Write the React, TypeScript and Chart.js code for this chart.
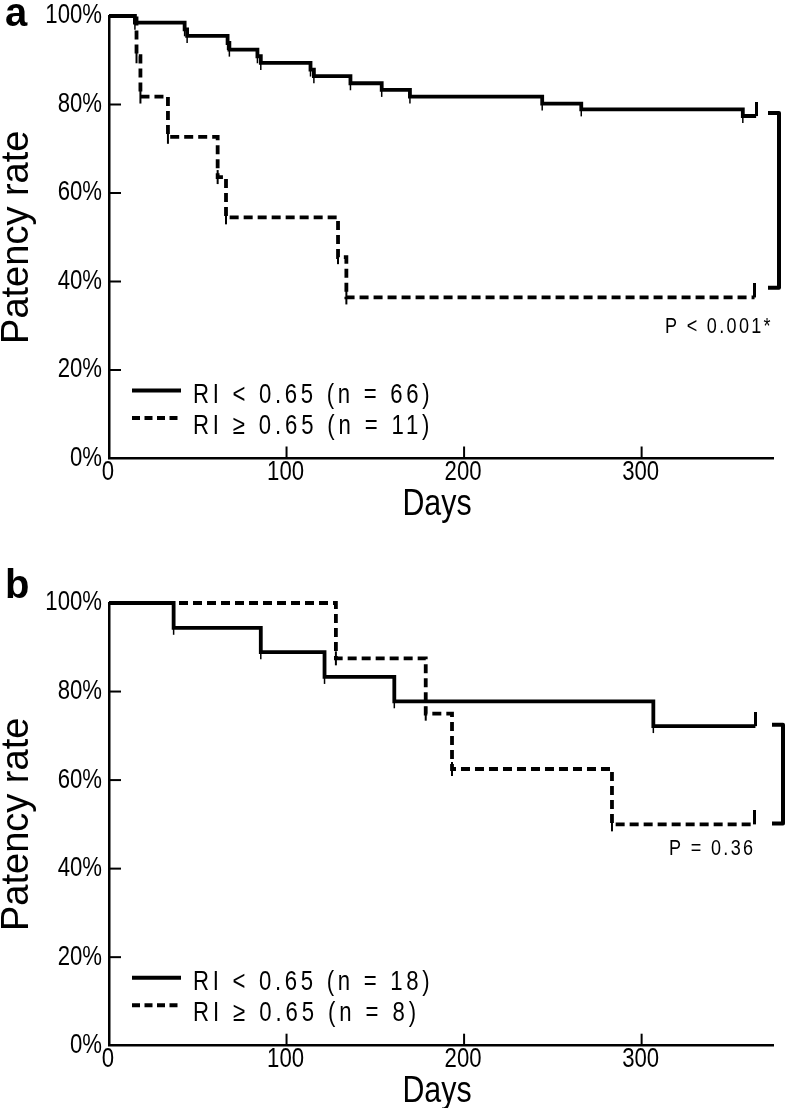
import React, { useEffect, useRef } from 'react';
import { Chart, registerables } from 'chart.js';

Chart.register(...registerables);

// ---------- data ----------
const xTickValues = [0, 100, 200, 300];
const yTickValues = [0, 20, 40, 60, 80, 100];
const xTickLabels = ['0', '100', '200', '300'];
const yTickLabels = ['0%', '20%', '40%', '60%', '80%', '100%'];
const xMax = 374;

const legendA = ['RI < 0.65 (n = 66)', 'RI ≥ 0.65 (n = 11)'];
const legendB = ['RI < 0.65 (n = 18)', 'RI ≥ 0.65 (n = 8)'];

// Panel a — RI < 0.65 (n = 66): days of each step, patency (%) after the step
const aLowDays = [0, 14.6, 42.6, 44.0, 66.8, 67.8, 83.6, 85.5, 113.5, 115.4, 136.0, 153.6, 169.5, 244.0, 266.0, 357.0, 364.5];
const aLowRate = [100, 98.5, 97.0, 95.5, 93.9, 92.4, 90.9, 89.4, 87.9, 86.4, 84.8, 83.3, 81.8, 80.2, 78.9, 77.4, 77.4];
// Panel a — RI ≥ 0.65 (n = 11)
const aHighDays = [0, 15.5, 17.7, 33.2, 61.2, 65.9, 129.0, 133.7, 363.6];
const aHighRate = [100, 90.9, 81.8, 72.7, 63.6, 54.5, 45.5, 36.4, 36.4];

// Panel b — RI < 0.65 (n = 18)
const bLowDays = [0, 36.4, 85.5, 121.4, 160.7, 306.6, 364.1];
const bLowRate = [100, 94.4, 88.9, 83.3, 77.8, 72.2, 72.2];
// Panel b — RI ≥ 0.65 (n = 8)
const bHighDays = [0, 127.8, 178.4, 193.2, 283.3, 363.7];
const bHighRate = [100, 87.5, 75.0, 62.5, 50.0, 50.0];

const pTextA = 'P < 0.001*';
const pTextB = 'P = 0.36';
// bracket ends (patency %)
const bracketA = [78.1, 38.6];
const bracketB = [72.5, 50.2];

const xTitle = 'Days';
const yTitle = 'Patency rate';

// ---------- styling ----------
const SANS = "'Liberation Sans', Arial, Helvetica, sans-serif";
const SQUEEZE = 0.82;

type PanelProps = {
  letter: string;
  letterBaseline: number;
  top: number;
  height: number;
  plotTop: number;
  axisY: number;
  lowDays: number[];
  lowRate: number[];
  highDays: number[];
  highRate: number[];
  legend: string[];
  pText: string;
  pX: number;
  pBaseline: number;
  bracket: number[];
  bracketX: number;
};

function makeEndMark(): HTMLCanvasElement {
  const c = document.createElement('canvas');
  c.width = 3;
  c.height = 28;
  const g = c.getContext('2d')!;
  g.fillStyle = '#000';
  g.fillRect(0, 0, 3, 14);
  return c;
}

// condensed text: horizontally squeezed, optional fixed advance per character
function narrowText(
  ctx: CanvasRenderingContext2D,
  text: string,
  x: number,
  y: number,
  size: number,
  align: CanvasTextAlign,
  baseline: CanvasTextBaseline,
  advance?: number,
) {
  ctx.save();
  ctx.font = `${size}px ${SANS}`;
  (ctx as any).letterSpacing = '0px';
  ctx.textAlign = align;
  ctx.textBaseline = baseline;
  ctx.translate(x, y);
  ctx.scale(SQUEEZE, 1);
  if (advance) {
    const w = ctx.measureText(text).width;
    const n = text.length;
    const ls = (n * advance / SQUEEZE - w) / n;
    (ctx as any).letterSpacing = ls.toFixed(2) + 'px';
  }
  ctx.fillText(text, 0, 0);
  ctx.restore();
}

function Panel(p: PanelProps) {
  const ref = useRef<HTMLCanvasElement>(null);
  useEffect(() => {
    const endMark = makeEndMark();
    const pts = (d: number[], r: number[]) => d.map((x, i) => ({ x, y: r[i] }));
    const lowPts = pts(p.lowDays, p.lowRate);
    const highPts = pts(p.highDays, p.highRate);

    const overlay = {
      id: 'overlay',
      afterDraw(chart: any) {
        const { ctx, chartArea, scales } = chart;
        const xs = scales.x;
        const ys = scales.y;
        ctx.save();
        ctx.strokeStyle = '#000';
        ctx.fillStyle = '#000';
        // inward tick marks + tick labels
        ctx.lineWidth = 2;
        xTickValues.forEach((v, i) => {
          const px = xs.getPixelForValue(v);
          if (v !== 0) {
            ctx.beginPath();
            ctx.moveTo(px, chartArea.bottom);
            ctx.lineTo(px, chartArea.bottom - 12);
            ctx.stroke();
          }
          narrowText(ctx, xTickLabels[i], px - 1, chartArea.bottom + 14, 27, 'center', 'middle');
        });
        yTickValues.forEach((v, i) => {
          const py = ys.getPixelForValue(v);
          if (v !== 0) {
            ctx.beginPath();
            ctx.moveTo(chartArea.left, py);
            ctx.lineTo(chartArea.left + 12, py);
            ctx.stroke();
          }
          narrowText(ctx, yTickLabels[i], chartArea.left - 7, py, 27, 'right', 'middle');
        });
        // x axis title
        narrowText(ctx, xTitle, (chartArea.left + chartArea.right) / 2 - 4, chartArea.bottom + 56.5, 37, 'center', 'alphabetic');
        // panel letter
        ctx.font = `bold 40px ${SANS}`;
        ctx.textAlign = 'left';
        ctx.textBaseline = 'alphabetic';
        ctx.fillText(p.letter, 5, p.letterBaseline);
        // legend
        const lx0 = chartArea.left + 23;
        const lx1 = chartArea.left + 72;
        ctx.lineWidth = 4;
        ctx.setLineDash([]);
        ctx.beginPath();
        ctx.moveTo(lx0, chartArea.bottom - 68);
        ctx.lineTo(lx1, chartArea.bottom - 68);
        ctx.stroke();
        ctx.setLineDash([8, 4.5]);
        ctx.beginPath();
        ctx.moveTo(lx0, chartArea.bottom - 40.5);
        ctx.lineTo(lx1, chartArea.bottom - 40.5);
        ctx.stroke();
        ctx.setLineDash([]);
        narrowText(ctx, p.legend[0], chartArea.left + 84, chartArea.bottom - 56, 27, 'left', 'alphabetic', 13.35);
        narrowText(ctx, p.legend[1], chartArea.left + 84, chartArea.bottom - 25, 27, 'left', 'alphabetic', 13.35);
        // p value
        narrowText(ctx, p.pText, p.pX, p.pBaseline, 22, 'left', 'alphabetic', 10.8);
        // bracket
        const bt = ys.getPixelForValue(p.bracket[0]);
        const bb = ys.getPixelForValue(p.bracket[1]);
        ctx.lineWidth = 4;
        ctx.lineJoin = 'round';
        ctx.beginPath();
        ctx.moveTo(p.bracketX - 11, bt);
        ctx.lineTo(p.bracketX, bt);
        ctx.lineTo(p.bracketX, bb);
        ctx.lineTo(p.bracketX - 11, bb);
        ctx.stroke();
        ctx.restore();
      },
    };

    const chart = new Chart(ref.current!, {
      type: 'line',
      data: {
        datasets: [
          {
            label: p.legend[0],
            data: lowPts,
            stepped: 'before',
            borderColor: '#000',
            borderWidth: 3.8,
            pointRadius: 0,
            fill: false,
            clip: false,
          } as any,
          {
            label: p.legend[1],
            data: highPts,
            stepped: 'before',
            borderColor: '#000',
            borderWidth: 3.8,
            borderDash: [9, 5],
            pointRadius: 0,
            fill: false,
            clip: false,
          } as any,
          {
            label: 'censored low',
            data: lowPts.slice(1, -1),
            showLine: false,
            pointStyle: 'line',
            rotation: 90,
            pointRadius: 7,
            pointBorderWidth: 1.5,
            borderColor: '#000',
            backgroundColor: '#000',
            clip: false,
          } as any,
          {
            label: 'censored high',
            data: highPts.slice(1, -1),
            showLine: false,
            pointStyle: 'line',
            rotation: 90,
            pointRadius: 7,
            pointBorderWidth: 2,
            borderColor: '#000',
            backgroundColor: '#000',
            clip: false,
          } as any,
          {
            label: 'end',
            data: [lowPts[lowPts.length - 1], highPts[highPts.length - 1]],
            showLine: false,
            pointStyle: endMark,
            pointRadius: 14,
            clip: false,
          } as any,
        ],
      },
      options: {
        responsive: false,
        animation: false,
        devicePixelRatio: 1,
        events: [],
        layout: { padding: { top: p.plotTop, right: 11, bottom: 0, left: 0 } },
        plugins: { legend: { display: false }, tooltip: { enabled: false } },
        scales: {
          x: {
            type: 'linear',
            min: 0,
            max: xMax,
            afterBuildTicks: (s: any) => {
              s.ticks = xTickValues.map((v) => ({ value: v }));
            },
            afterFit: (s: any) => {
              s.height = p.height - p.axisY;
            },
            grid: { display: false, drawTicks: false },
            border: { display: true, color: '#000', width: 2.5 },
            ticks: { display: false },
            title: { display: false },
          },
          y: {
            type: 'linear',
            min: 0,
            max: 100,
            afterBuildTicks: (s: any) => {
              s.ticks = yTickValues.map((v) => ({ value: v }));
            },
            afterFit: (s: any) => {
              s.width = 109;
            },
            grid: { display: false, drawTicks: false },
            border: { display: true, color: '#000', width: 2.5 },
            ticks: { display: false },
            title: {
              display: true,
              text: yTitle,
              color: '#000',
              font: { family: SANS, size: 38, lineHeight: 1 },
              padding: { top: -1, bottom: 0 },
            },
          },
        },
      } as any,
      plugins: [overlay],
    });
    return () => chart.destroy();
  }, []);
  return (
    <canvas
      ref={ref}
      width={788}
      height={p.height}
      style={{ position: 'absolute', left: 0, top: p.top, width: 788, height: p.height, display: 'block' }}
    />
  );
}

export default function App() {
  return (
    <div style={{ position: 'absolute', left: 0, top: 0, width: 788, height: 1108, background: '#fff', overflow: 'hidden' }}>
      <Panel
        letter="a"
        letterBaseline={26}
        top={0}
        height={540}
        plotTop={16}
        axisY={458.5}
        lowDays={aLowDays}
        lowRate={aLowRate}
        highDays={aHighDays}
        highRate={aHighRate}
        legend={legendA}
        pText={pTextA}
        pX={665}
        pBaseline={332.7}
        bracket={bracketA}
        bracketX={779}
      />
      <Panel
        letter="b"
        letterBaseline={58}
        top={540}
        height={568}
        plotTop={63}
        axisY={505.7}
        lowDays={bLowDays}
        lowRate={bLowRate}
        highDays={bHighDays}
        highRate={bHighRate}
        legend={legendB}
        pText={pTextB}
        pX={669}
        pBaseline={315}
        bracket={bracketB}
        bracketX={783}
      />
    </div>
  );
}
